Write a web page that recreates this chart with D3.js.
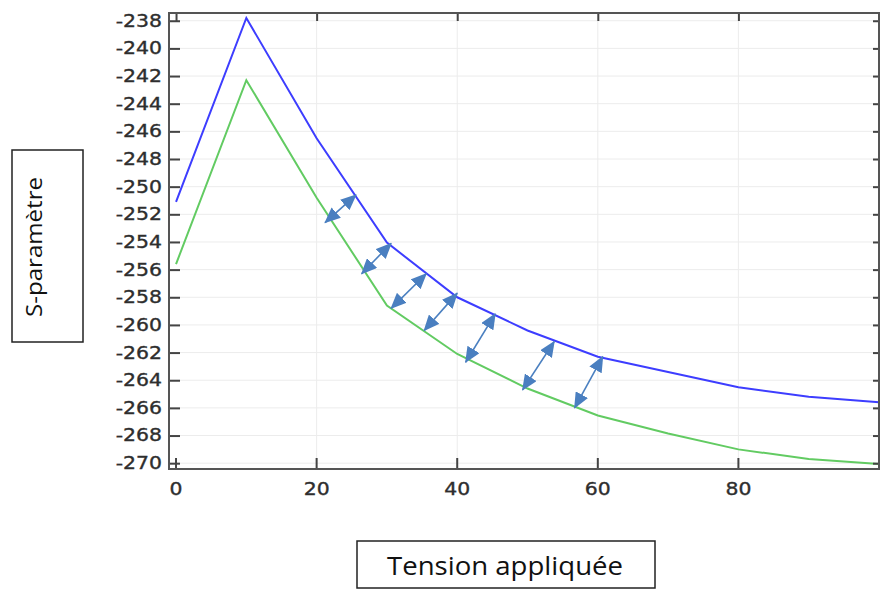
<!DOCTYPE html>
<html>
<head>
<meta charset="utf-8">
<script src="https://cdn.jsdelivr.net/npm/d3@7"></script>
<style>
  html, body { margin: 0; padding: 0; background: #fff; }
  svg { display: block; }
</style>
</head>
<body>
<svg id="chart" width="881" height="590"></svg>
<script>
// ---- data ----
const voltage = [0, 10, 20, 30, 40, 50, 60, 70, 80, 90, 100];
const seriesBlue = [-251.1, -237.8, -246.5, -254.05, -258.0, -260.4, -262.3, -263.4, -264.5, -265.2, -265.6];
const seriesGreen = [-255.6, -242.3, -250.8, -258.6, -262.1, -264.6, -266.55, -267.85, -269.0, -269.7, -270.05];
const xTicks = [0, 20, 40, 60, 80];
const yTicks = [-270, -268, -266, -264, -262, -260, -258, -256, -254, -252, -250, -248, -246, -244, -242, -240, -238];
// double arrows between the curves: [x1, y1, x2, y2] in data units
const arrowX1 = [21.2, 26.4, 30.6, 35.3, 41.2, 49.3, 56.7];
const arrowY1 = [-252.6, -256.3, -258.8, -260.4, -262.7, -264.7, -266.0];
const arrowX2 = [25.6, 30.6, 35.6, 40.0, 45.4, 53.8, 60.7];
const arrowY2 = [-250.6, -254.1, -256.3, -257.7, -259.2, -261.2, -262.3];
const xLabel = "Tension appliquée";
const yLabel = "S-paramètre";

// ---- layout ----
const svg = d3.select("#chart");
const L = 169, R = 879, T = 13, B = 469;
const x = d3.scaleLinear().domain([-1, 100]).range([L, R]);
const y = d3.scaleLinear().domain([-270.42, -237.44]).range([B, T]);
const stretch = 1.2;

// grid
const grid = svg.append("g");
grid.selectAll("line.h").data(yTicks).join("line")
  .attr("x1", L).attr("x2", R)
  .attr("y1", d => y(d)).attr("y2", d => y(d))
  .attr("stroke", "#ececec").attr("stroke-width", 1);
grid.selectAll("line.v").data(xTicks.filter(d => d > 0)).join("line")
  .attr("x1", d => x(d)).attr("x2", d => x(d))
  .attr("y1", T).attr("y2", B)
  .attr("stroke", "#ececec").attr("stroke-width", 1);

// lines
const line = d3.line().x(d => x(d[0])).y(d => y(d[1]));
svg.append("path").datum(voltage.map((v, i) => [v, seriesGreen[i]]))
  .attr("d", line).attr("fill", "none").attr("stroke", "#62cb62").attr("stroke-width", 2);
svg.append("path").datum(voltage.map((v, i) => [v, seriesBlue[i]]))
  .attr("d", line).attr("fill", "none").attr("stroke", "#3d3dff").attr("stroke-width", 2);

// arrows
const defs = svg.append("defs");
defs.append("marker").attr("id", "ah")
  .attr("markerUnits", "userSpaceOnUse")
  .attr("markerWidth", 16).attr("markerHeight", 14)
  .attr("refX", 15).attr("refY", 7)
  .attr("orient", "auto-start-reverse")
  .append("path").attr("d", "M0,0 L16,7 L0,14 Z").attr("fill", "#4a7fc0");
svg.append("g").selectAll("line").data(arrowX1.map((d, i) => i)).join("line")
  .attr("x1", i => x(arrowX1[i])).attr("y1", i => y(arrowY1[i]))
  .attr("x2", i => x(arrowX2[i])).attr("y2", i => y(arrowY2[i]))
  .attr("stroke", "#4a7fc0").attr("stroke-width", 1.6)
  .attr("marker-start", "url(#ah)").attr("marker-end", "url(#ah)");

// axes
const fmt = d => d3.format("d")(d).replace("−", "-");
function styleAxis(g) {
  g.select(".domain").remove();
  g.selectAll(".tick line").attr("stroke", "#444").attr("stroke-width", 2);
  g.selectAll(".tick text")
    .attr("fill", "#2e2e2e")
    .attr("stroke", "#2e2e2e").attr("stroke-width", 0.35)
    .style("font-family", "'DejaVu Sans', sans-serif")
    .style("font-size", "17px");
}
const yAxis = svg.append("g").attr("transform", `translate(${L},0)`)
  .call(d3.axisLeft(y).tickValues(yTicks).tickFormat(fmt).tickSizeInner(-11).tickSizeOuter(0).tickPadding(8));
styleAxis(yAxis);
yAxis.selectAll(".tick text").attr("x", -7 / stretch).attr("transform", `scale(${stretch},1)`);

const xAxis = svg.append("g").attr("transform", `translate(0,${B})`)
  .call(d3.axisBottom(x).tickValues(xTicks).tickFormat(fmt).tickSizeInner(-11).tickSizeOuter(0).tickPadding(14));
styleAxis(xAxis);
xAxis.selectAll(".tick").each(function (d) {
  const px = x(d);
  d3.select(this).attr("transform", `translate(${px},0) scale(${stretch},1)`);
  d3.select(this).select("line").attr("transform", `scale(${1 / stretch},1)`);
});

const topAxis = svg.append("g").attr("transform", `translate(0,${T})`)
  .call(d3.axisTop(x).tickValues(xTicks).tickFormat("").tickSizeInner(-8).tickSizeOuter(0));
styleAxis(topAxis);
const rightAxis = svg.append("g").attr("transform", `translate(${R},0)`)
  .call(d3.axisRight(y).tickValues(yTicks).tickFormat("").tickSizeInner(-6).tickSizeOuter(0));
styleAxis(rightAxis);

// frame
svg.append("rect").attr("x", L).attr("y", T).attr("width", R - L).attr("height", B - T)
  .attr("fill", "none").attr("stroke", "#555").attr("stroke-width", 2);

// axis title boxes
svg.append("rect").attr("x", 12).attr("y", 150).attr("width", 71).attr("height", 192)
  .attr("fill", "none").attr("stroke", "#222").attr("stroke-width", 1.5);
svg.append("text").attr("transform", "translate(42,247) rotate(-90)")
  .attr("text-anchor", "middle")
  .attr("textLength", 140).attr("lengthAdjust", "spacingAndGlyphs")
  .style("font-family", "'Open Sans', sans-serif").style("font-size", "22px")
  .attr("fill", "#111").text(yLabel);

svg.append("rect").attr("x", 357).attr("y", 541).attr("width", 298).attr("height", 47)
  .attr("fill", "none").attr("stroke", "#222").attr("stroke-width", 1.5);
svg.append("text").attr("x", 505).attr("y", 575)
  .attr("text-anchor", "middle")
  .attr("textLength", 236).attr("lengthAdjust", "spacingAndGlyphs")
  .style("font-family", "'Open Sans', sans-serif").style("font-size", "25px")
  .attr("fill", "#111").text(xLabel);
</script>
</body>
</html>
